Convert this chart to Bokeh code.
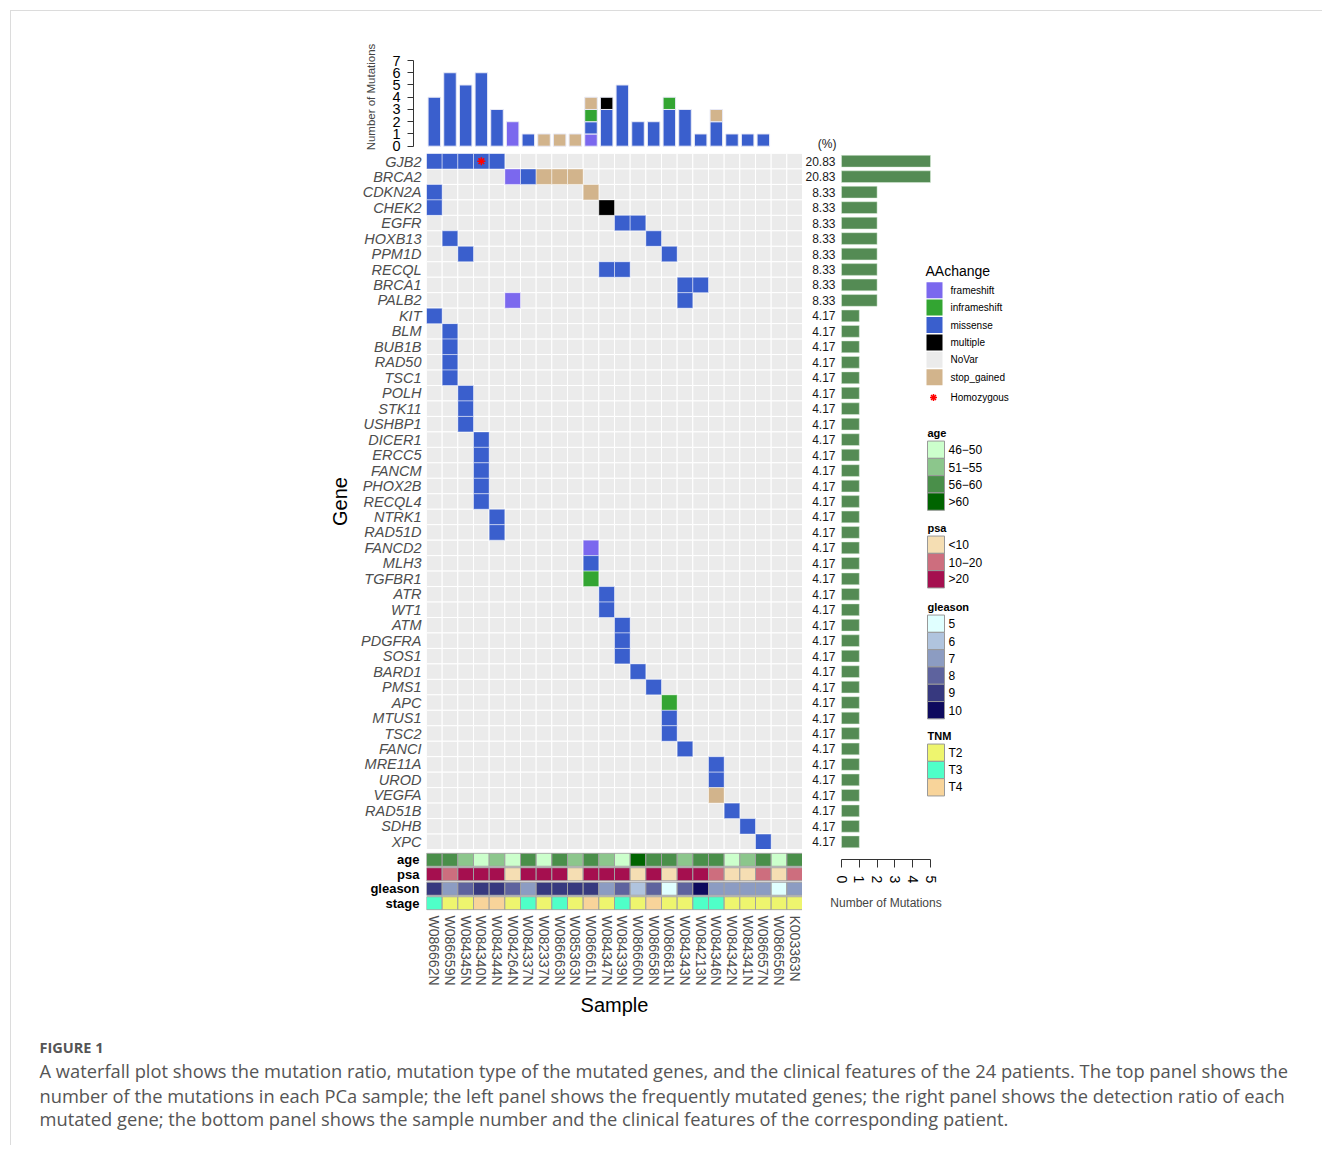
from bokeh.plotting import figure
from bokeh.models import Range1d, FactorRange, FixedTicker
from bokeh.layouts import column, row
from bokeh.embed import file_html
from bokeh.resources import INLINE
from bokeh.core.properties import value

FONT = "Liberation Sans"
CAPFONT = "Open Sans"

# ---------------- data ----------------
samples = ["W086662N", "W086659N", "W084345N", "W084340N", "W084344N", "W084264N",
           "W084337N", "W082337N", "W086663N", "W085363N", "W086661N", "W084347N",
           "W084339N", "W086660N", "W086658N", "W086681N", "W084343N", "W084213N",
           "W084346N", "W084342N", "W084341N", "W086657N", "W086656N", "K003363N"]

genes = ["GJB2", "BRCA2", "CDKN2A", "CHEK2", "EGFR", "HOXB13", "PPM1D", "RECQL", "BRCA1",
         "PALB2", "KIT", "BLM", "BUB1B", "RAD50", "TSC1", "POLH", "STK11", "USHBP1",
         "DICER1", "ERCC5", "FANCM", "PHOX2B", "RECQL4", "NTRK1", "RAD51D", "FANCD2",
         "MLH3", "TGFBR1", "ATR", "WT1", "ATM", "PDGFRA", "SOS1", "BARD1", "PMS1", "APC",
         "MTUS1", "TSC2", "FANCI", "MRE11A", "UROD", "VEGFA", "RAD51B", "SDHB", "XPC"]

mut_gene = ["GJB2", "GJB2", "GJB2", "GJB2", "GJB2",
            "BRCA2", "BRCA2", "BRCA2", "BRCA2", "BRCA2",
            "CDKN2A", "CDKN2A", "CHEK2", "CHEK2", "EGFR", "EGFR", "HOXB13", "HOXB13",
            "PPM1D", "PPM1D", "RECQL", "RECQL", "BRCA1", "BRCA1", "PALB2", "PALB2",
            "KIT", "BLM", "BUB1B", "RAD50", "TSC1", "POLH", "STK11", "USHBP1",
            "DICER1", "ERCC5", "FANCM", "PHOX2B", "RECQL4", "NTRK1", "RAD51D",
            "FANCD2", "MLH3", "TGFBR1", "ATR", "WT1", "ATM", "PDGFRA", "SOS1",
            "BARD1", "PMS1", "APC", "MTUS1", "TSC2", "FANCI", "MRE11A", "UROD",
            "VEGFA", "RAD51B", "SDHB", "XPC"]
mut_sample = ["W086662N", "W086659N", "W084345N", "W084340N", "W084344N",
              "W084264N", "W084337N", "W082337N", "W086663N", "W085363N",
              "W086662N", "W086661N", "W086662N", "W084347N", "W084339N", "W086660N",
              "W086659N", "W086658N", "W084345N", "W086681N", "W084347N", "W084339N",
              "W084343N", "W084213N", "W084264N", "W084343N",
              "W086662N", "W086659N", "W086659N", "W086659N", "W086659N",
              "W084345N", "W084345N", "W084345N",
              "W084340N", "W084340N", "W084340N", "W084340N", "W084340N",
              "W084344N", "W084344N",
              "W086661N", "W086661N", "W086661N", "W084347N", "W084347N",
              "W084339N", "W084339N", "W084339N", "W086660N", "W086658N",
              "W086681N", "W086681N", "W086681N", "W084343N", "W084346N", "W084346N",
              "W084346N", "W084342N", "W084341N", "W086657N"]
mut_type = ["missense", "missense", "missense", "missense", "missense",
            "frameshift", "missense", "stop_gained", "stop_gained", "stop_gained",
            "missense", "stop_gained", "missense", "multiple", "missense", "missense",
            "missense", "missense", "missense", "missense", "missense", "missense",
            "missense", "missense", "frameshift", "missense",
            "missense", "missense", "missense", "missense", "missense",
            "missense", "missense", "missense",
            "missense", "missense", "missense", "missense", "missense",
            "missense", "missense",
            "frameshift", "missense", "inframeshift", "missense", "missense",
            "missense", "missense", "missense", "missense", "missense",
            "inframeshift", "missense", "missense", "missense", "missense", "missense",
            "stop_gained", "missense", "missense", "missense"]

homo_gene = ["GJB2"]
homo_sample = ["W084340N"]

age_group = ["56−60", "56−60", "51−55", "46−50", "51−55", "46−50", "56−60", "46−50",
             "56−60", "51−55", "56−60", "51−55", "46−50", ">60", "56−60", "56−60",
             "51−55", "56−60", "56−60", "46−50", "51−55", "56−60", "46−50", "56−60"]
psa_group = [">20", "10−20", ">20", ">20", ">20", "<10", ">20", ">20", ">20", "<10",
             ">20", ">20", ">20", "<10", ">20", "<10", ">20", ">20", "10−20", "<10",
             "<10", "10−20", "<10", "10−20"]
gleason_score = ["9", "7", "8", "9", "9", "8", "7", "9", "9", "9", "9", "7", "8", "6",
                 "8", "5", "8", "10", "7", "7", "7", "7", "5", "7"]
tnm_stage = ["T3", "T2", "T2", "T4", "T4", "T2", "T3", "T2", "T3", "T2", "T4", "T2",
             "T3", "T2", "T4", "T2", "T2", "T3", "T3", "T2", "T2", "T2", "T2", "T2"]

aa_levels = ["frameshift", "inframeshift", "missense", "multiple", "NoVar", "stop_gained"]
aa_colors = ["#7B68EE", "#33A532", "#3A5FCD", "#000000", "#EBEBEB", "#D2B48C"]
stack_order = ["frameshift", "missense", "inframeshift", "multiple", "stop_gained"]

age_levels = ["46−50", "51−55", "56−60", ">60"]
age_colors = ["#CCFFCC", "#8CC68C", "#4A8F4A", "#006400"]
psa_levels = ["<10", "10−20", ">20"]
psa_colors = ["#F5DEB3", "#CD6E7E", "#A50F4F"]
gleason_levels = ["5", "6", "7", "8", "9", "10"]
gleason_colors = ["#E0FFFF", "#B0C4DE", "#8C9CC2", "#5E639E", "#37397F", "#0E0A5E"]
tnm_levels = ["T2", "T3", "T4"]
tnm_colors = ["#EEF56E", "#4FFFC8", "#F8D49A"]

caption_title = "FIGURE 1"
caption_lines = [
    "A waterfall plot shows the mutation ratio, mutation type of the mutated genes, and the clinical features of the 24 patients. The top panel shows the",
    "number of the mutations in each PCa sample; the left panel shows the frequently mutated genes; the right panel shows the detection ratio of each",
    "mutated gene; the bottom panel shows the sample number and the clinical features of the corresponding patient.",
]

# ---------------- derived ----------------
n_s = len(samples)
aa_color = dict(zip(aa_levels, aa_colors))
counts = {t: [0] * n_s for t in stack_order}
for g, s, t in zip(mut_gene, mut_sample, mut_type):
    counts[t][samples.index(s)] += 1
gene_counts = [mut_gene.count(g) for g in genes]
gene_pct = ["%.2f" % (100.0 * c / n_s) for c in gene_counts]

# layout constants (page pixels)
OX, OY = 11, 11          # origin of the content (after card margin + border)
COLW = 376 / 24.0        # sample column width
ROWH = 696 / 45.0        # gene row height
TOP_FT, TOP_FB = 40, 153  # top panel frame (page y)
TOP0 = 145.7             # page y of zero mutations in top panel
TOPU = (TOP0 - 60) / 7.0  # px per mutation in top panel
BARU = 89 / 5.0          # px per mutation in right panel
GRID_T = TOP_FB          # page y of grid top


def clean(p):
    p.xgrid.visible = False
    p.ygrid.visible = False
    p.outline_line_color = None
    p.background_fill_color = "white"
    p.border_fill_color = "white"


# ---------------- top bar panel ----------------
top = figure(frame_width=427, frame_height=TOP_FB - TOP_FT, min_border_left=413 - OX,
             min_border_right=0, min_border_top=TOP_FT - OY, min_border_bottom=0,
             x_range=Range1d(-13 / COLW, -13 / COLW + 427 / COLW),
             y_range=Range1d(-(TOP_FB - TOP0) / TOPU, (TOP0 - TOP_FT) / TOPU),
             x_axis_location=None, y_axis_location="left", title_location=None,
             toolbar_location=None, output_backend="svg")
clean(top)
base = [0] * n_s
for t in stack_order:
    xs, b0, b1 = [], [], []
    for i in range(n_s):
        c = counts[t][i]
        if c:
            xs.append(i + 0.5)
            b0.append(base[i])
            b1.append(base[i] + c)
            base[i] += c
    top.vbar(x=xs, bottom=b0, top=b1, width=0.8, fill_color=aa_color[t],
             line_color="#E8EAF6", line_width=1)
ya = top.yaxis[0]
ya.ticker = FixedTicker(ticks=list(range(8)))
ya.bounds = (0, 7)
ya.major_tick_out = 6
ya.major_tick_in = 0
ya.minor_tick_out = 0
ya.minor_tick_in = 0
ya.major_label_standoff = 7
ya.major_label_text_font = FONT
ya.major_label_text_font_size = "14.5px"
ya.major_label_text_color = "black"
ya.axis_line_color = "#333333"
ya.major_tick_line_color = "#333333"
ya.axis_label = "Number of Mutations"
ya.axis_label_text_font = FONT
ya.axis_label_text_font_size = "11.5px"
ya.axis_label_text_font_style = "normal"
ya.axis_label_standoff = 12
top.text(x=[(836 - 426) / COLW], y=[(TOP0 - 143) / TOPU], text=["(%)"], text_align="right",
         text_baseline="middle", text_font=value(FONT), text_font_size="12px",
         text_color="#1A1A1A")

# ---------------- main mutation grid ----------------
grid = figure(frame_width=376, frame_height=696, min_border_left=426 - OX, min_border_right=0,
              min_border_top=0, min_border_bottom=0,
              x_range=FactorRange(*samples), y_range=FactorRange(*genes[::-1]),
              x_axis_location=None, y_axis_location="left", title_location=None,
              toolbar_location=None, output_backend="svg")
clean(grid)
bg_x = [s for g in genes for s in samples]
bg_y = [g for g in genes for s in samples]
grid.rect(x=bg_x, y=bg_y, width=1, height=1, fill_color=aa_color["NoVar"],
          line_color="white", line_width=1)
grid.rect(x=mut_sample, y=mut_gene, width=1, height=1,
          fill_color=[aa_color[t] for t in mut_type], line_color="white",
          line_alpha=0.45, line_width=1)
grid.scatter(x=homo_sample, y=homo_gene, marker="asterisk", size=8,
             line_color="red", line_width=1.5)
ga = grid.yaxis[0]
ga.major_tick_out = 0
ga.major_tick_in = 0
ga.axis_line_color = None
ga.major_label_standoff = 5
ga.major_label_text_font = FONT
ga.major_label_text_font_style = "italic"
ga.major_label_text_font_size = "14.5px"
ga.major_label_text_color = "#4D4D4D"
ga.axis_label = "Gene"
ga.axis_label_text_font = FONT
ga.axis_label_text_font_size = "20px"
ga.axis_label_text_font_style = "normal"
ga.axis_label_text_color = "black"
ga.axis_label_standoff = 7

# ---------------- clinical rows ----------------
clin_rows = ["stage", "gleason", "psa", "age"]
clin = figure(frame_width=376, frame_height=58, min_border_left=426 - OX, min_border_right=0,
              min_border_top=852 - (GRID_T + 696), min_border_bottom=115,
              x_range=FactorRange(*samples), y_range=FactorRange(*clin_rows),
              x_axis_location="below", y_axis_location="left", title_location=None,
              toolbar_location=None, output_backend="svg")
clean(clin)
for name, vals, levels, cols in [("age", age_group, age_levels, age_colors),
                                 ("psa", psa_group, psa_levels, psa_colors),
                                 ("gleason", gleason_score, gleason_levels, gleason_colors),
                                 ("stage", tnm_stage, tnm_levels, tnm_colors)]:
    clin.rect(x=samples, y=[name] * n_s, width=1, height=0.9,
              fill_color=[cols[levels.index(v)] for v in vals],
              line_color="#A0A0A0", line_width=1)
ca = clin.yaxis[0]
ca.major_tick_out = 0
ca.major_tick_in = 0
ca.axis_line_color = None
ca.major_label_standoff = 7
ca.major_label_text_font = FONT
ca.major_label_text_font_style = "bold"
ca.major_label_text_font_size = "13px"
ca.major_label_text_color = "black"
cx = clin.xaxis[0]
cx.major_tick_out = 0
cx.major_tick_in = 0
cx.axis_line_color = None
cx.major_label_orientation = "vertical"
cx.major_label_standoff = 5
cx.major_label_text_font = FONT
cx.major_label_text_font_size = "14px"
cx.major_label_text_color = "#4D4D4D"
cx.axis_label = "Sample"
cx.axis_label_text_font = FONT
cx.axis_label_text_font_size = "20px"
cx.axis_label_text_font_style = "normal"
cx.axis_label_text_color = "black"
cx.axis_label_standoff = 5

# ---------------- right bar panel + legends ----------------
bars = figure(frame_width=213, frame_height=696, min_border_left=0, min_border_right=0,
              min_border_top=0, min_border_bottom=858 - (GRID_T + 696),
              x_range=Range1d(-39 / BARU, -39 / BARU + 213 / BARU),
              y_range=Range1d(45, 0),
              x_axis_location=None, y_axis_location=None, title_location=None,
              toolbar_location=None, output_backend="svg")
clean(bars)
ys = [i + 0.5 for i in range(len(genes))]
bars.hbar(y=ys, left=0, right=gene_counts, height=0.76, fill_color="#548B54",
          line_color="#DDEEDD", line_width=0.5)
bars.text(x=[-6 / BARU] * len(genes), y=ys, text=gene_pct, text_align="right",
          text_baseline="middle", text_font=value(FONT), text_font_size="12px",
          text_color="#1A1A1A")

bars.extra_x_ranges = {"px": Range1d(802, 1015)}
bars.extra_y_ranges = {"px": Range1d(GRID_T + 696, GRID_T)}


def ltext(x, y, txt, size, style="normal", color="black"):
    bars.text(x=x, y=y, text=txt, x_range_name="px", y_range_name="px",
              text_align="left", text_baseline="middle", text_font=value(FONT),
              text_font_size=size, text_font_style=style, text_color=color)


# AAchange legend
ltext([925], [270], ["AAchange"], "14px")
aa_y = [289.7 + 17.4 * k for k in range(len(aa_levels))]
bars.rect(x=[934] * len(aa_levels), y=aa_y, width=16, height=16, fill_color=aa_colors,
          line_color=None, x_range_name="px", y_range_name="px")
ltext([950] * len(aa_levels), aa_y, aa_levels, "10px")
bars.scatter(x=[933], y=[397], marker="asterisk", size=7, line_color="red",
             line_width=1.5, x_range_name="px", y_range_name="px")
ltext([950], [397], ["Homozygous"], "10px")

# clinical legends
for title, levels, cols, ty in [("age", age_levels, age_colors, 432),
                                ("psa", psa_levels, psa_colors, 527),
                                ("gleason", gleason_levels, gleason_colors, 606),
                                ("TNM", tnm_levels, tnm_colors, 735)]:
    ltext([927], [ty], [title], "11px", style="bold")
    yy = [ty + 17.2 + 17.3 * k for k in range(len(levels))]
    bars.rect(x=[935.5] * len(levels), y=yy, width=17, height=17.3, fill_color=cols,
              line_color="#999999", line_width=1, x_range_name="px", y_range_name="px")
    ltext([948] * len(levels), yy, levels, "12px")

# axis of the right panel (own small figure so its title centres on 0..5)
baxis = figure(frame_width=89, frame_height=1, min_border_left=841 - 802, min_border_right=45,
               min_border_top=0, min_border_bottom=60,
               x_range=Range1d(0, 5), y_range=Range1d(0, 1),
               x_axis_location="below", y_axis_location=None, title_location=None,
               toolbar_location=None, output_backend="svg")
clean(baxis)
bx = baxis.xaxis[0]
bx.ticker = FixedTicker(ticks=list(range(6)))
bx.major_tick_out = 8
bx.major_tick_in = 0
bx.minor_tick_out = 0
bx.minor_tick_in = 0
bx.major_label_orientation = "vertical"
bx.major_label_standoff = 8
bx.major_label_text_font = FONT
bx.major_label_text_font_size = "14px"
bx.major_label_text_color = "black"
bx.axis_line_color = "#333333"
bx.major_tick_line_color = "#333333"
bx.axis_label = "Number of Mutations"
bx.axis_label_text_font = FONT
bx.axis_label_text_font_size = "12px"
bx.axis_label_text_font_style = "normal"
bx.axis_label_standoff = 10

# ---------------- caption ----------------
CAPW = 1311
cap = figure(frame_width=CAPW, frame_height=120, min_border=0,
             x_range=Range1d(OX, OX + CAPW), y_range=Range1d(1145, 1025),
             x_axis_location=None, y_axis_location=None, title_location=None,
             toolbar_location=None, output_backend="svg")
clean(cap)
cap.text(x=[39], y=[1047], text=[caption_title], text_align="left", text_baseline="middle",
         text_font=value(CAPFONT), text_font_size="14.5px", text_font_style="bold",
         text_color="#555555")
cap.text(x=[39] * 3, y=[1070, 1095, 1118], text=caption_lines, text_align="left",
         text_baseline="middle", text_font=value(CAPFONT), text_font_size="18.3px",
         text_color="#555555")

right_col = column(bars, row(baxis))
root = column(top, row(column(grid, clin), right_col), row(cap),
              styles={"margin-left": "10px", "margin-top": "10px",
                      "border-left": "1px solid #dcdcdc", "border-top": "1px solid #dcdcdc"})
open("out.html", "w").write(file_html(root, INLINE))
